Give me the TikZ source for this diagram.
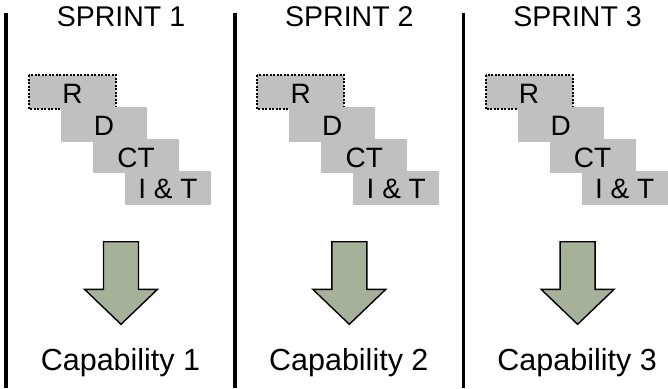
\documentclass[tikz,border=0pt]{standalone}
\usepackage{fontspec}
\setmainfont{Liberation Sans}
\definecolor{boxgray}{RGB}{192,192,192}
\definecolor{arrowgreen}{RGB}{165,177,153}
\tikzset{
  x=1pt, y=-1pt,
  divider/.style={line width=3.6pt, black},
  phasebox/.style={fill=boxgray, draw=none},
  firstbox/.style={fill=boxgray, draw=black, line width=2pt, dash pattern=on 2pt off 1.5pt},
  phasetext/.style={anchor=base, inner sep=0pt, font=\fontsize{28}{30}\selectfont},
  titletext/.style={anchor=base, inner sep=0pt, font=\fontsize{28.5}{30}\selectfont},
  captext/.style={anchor=base, inner sep=0pt, font=\fontsize{30.5}{32}\selectfont},
  bigarrow/.style={fill=arrowgreen, draw=black, line width=1.4pt, line join=miter}
}
\begin{document}
\begin{tikzpicture}
\useasboundingbox (0,0) rectangle (668,388);
% dividers
\coordinate (l1t) at (6,13); \coordinate (l1b) at (6,388);
\coordinate (l2t) at (235,13); \coordinate (l2b) at (235,388);
\coordinate (l3t) at (463.5,13); \coordinate (l3b) at (463.5,388);
\draw[divider] (l1t) -- (l1b);
\draw[divider] (l2t) -- (l2b);
\draw[divider] (l3t) -- (l3b);
\foreach \c/\n in {121/1, 349.3/2, 577.6/3} {
  \node[titletext] (title\n) at (\c,26) {SPRINT \n};
  % boxes
  \draw[firstbox] (\c-92,75) rectangle (\c-5,109);
  \fill[phasebox] (\c-60,107) rectangle (\c+26,141.5);
  \fill[phasebox] (\c-28,139) rectangle (\c+58,173);
  \fill[phasebox] (\c+4,170.5) rectangle (\c+90,204.5);
  \node[phasetext] (r\n) at (\c-48.5,103) {R};
  \node[phasetext] (d\n) at (\c-17,135) {D};
  \node[phasetext] (ct\n) at (\c+15,167) {CT};
  \node[phasetext] (it\n) at (\c+47,198.5) {I \& T};
  % arrow
  \draw[bigarrow] (\c-17.5,241.7) -- (\c+17.5,241.7) -- (\c+17.5,289.3) -- (\c+36.5,289.3)
     -- (\c,324.3) -- (\c-36.5,289.3) -- (\c-17.5,289.3) -- cycle;
  \node[captext] (cap\n) at (\c-0.5,370) {Capability \n};
}
\end{tikzpicture}
\end{document}
